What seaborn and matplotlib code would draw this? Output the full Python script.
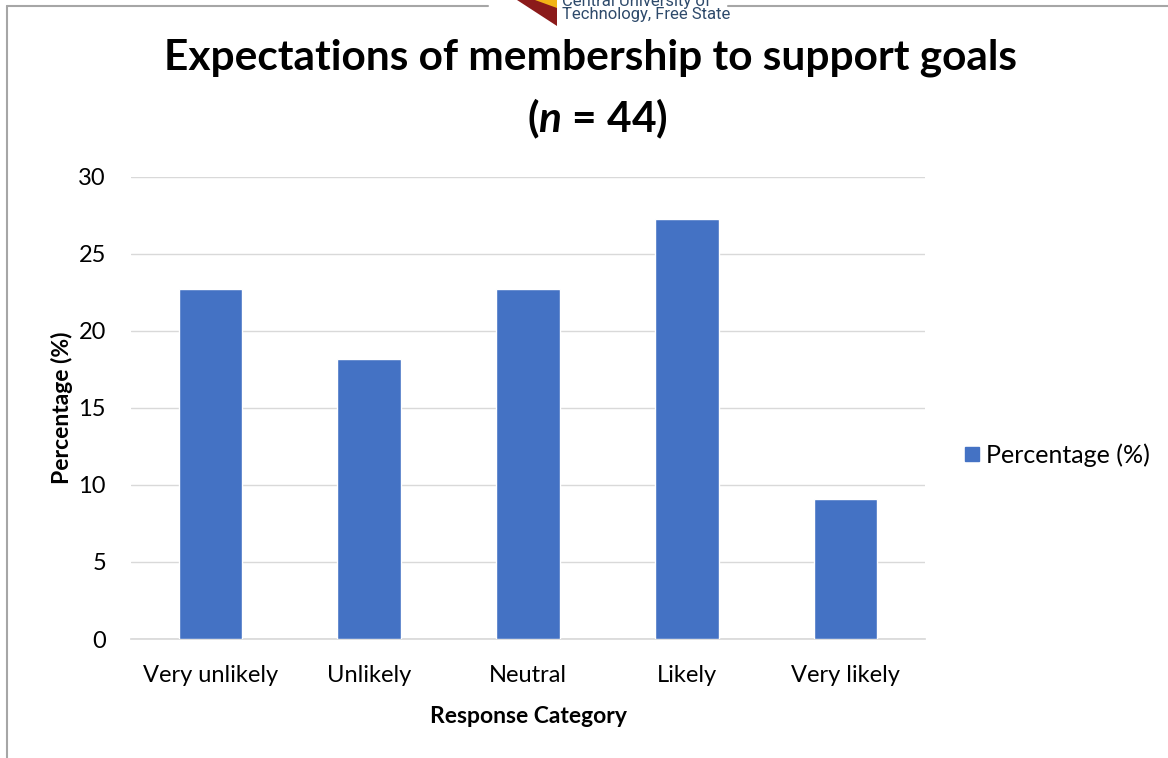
import matplotlib
matplotlib.use("Agg")
import matplotlib.pyplot as plt
import seaborn as sns
import pandas as pd
from matplotlib.patches import Polygon
from matplotlib.lines import Line2D

categories = ["Very unlikely", "Unlikely", "Neutral", "Likely", "Very likely"]
percentages = [22.73, 18.18, 22.73, 27.27, 9.09]
series_name = "Percentage (%)"
y_ticks = [0, 5, 10, 15, 20, 25, 30]

df = pd.DataFrame({"Response Category": categories, series_name: percentages})

sns.set_theme(style="white")
plt.rcParams["font.family"] = ["Lato", "DejaVu Sans"]
plt.rcParams["text.color"] = "black"
plt.rcParams["axes.labelcolor"] = "black"
plt.rcParams["xtick.color"] = "black"
plt.rcParams["ytick.color"] = "black"
plt.rcParams["mathtext.fontset"] = "custom"
plt.rcParams["mathtext.it"] = "Lato:bold:italic"
plt.rcParams["mathtext.rm"] = "Lato:bold"

W, H = 1168, 758
fig = plt.figure(figsize=(W / 100, H / 100), dpi=100)
ax = fig.add_axes([131 / W, 1 - 639 / H, (925 - 131) / W, (639 - 177) / H])

bar_color = "#4472C4"
sns.barplot(data=df, x="Response Category", y=series_name, color=bar_color,
            width=0.4, saturation=1, ax=ax, zorder=3)

ax.set_ylim(0, 30)
ax.set_yticks(y_ticks)
ax.set_yticklabels([str(t) for t in y_ticks], fontsize=17)
ax.tick_params(axis="x", labelsize=17, length=0, pad=19)
ax.tick_params(axis="y", length=0, pad=18)
ax.grid(axis="y", color="#d9d9d9", linewidth=1, zorder=0)
for side in ["left", "right", "top"]:
    ax.spines[side].set_visible(False)
ax.spines["bottom"].set_color("#d9d9d9")
ax.set_xlabel("Response Category", fontsize=16.5, fontweight="bold", labelpad=14)
ax.set_ylabel("Percentage (%)", fontsize=16.5, fontweight="bold", labelpad=4)

# Title, two lines
fig.text(590 / W, 1 - 58 / H, "Expectations of membership to support goals",
         ha="center", va="center", fontsize=30.5, fontweight="bold")
fig.text(597 / W, 1 - 119 / H, r"($\mathit{n}$ = 44)", ha="center", va="center",
         fontsize=30.5, fontweight="bold")

# Legend
handles = [Line2D([], [], marker="s", linestyle="none", markersize=10,
                  markerfacecolor=bar_color, markeredgecolor=bar_color)]
fig.legend(handles, [series_name], loc="center left",
           bbox_to_anchor=(959 / W, 1 - 455 / H), frameon=False, fontsize=18,
           handletextpad=0.1, handlelength=1.0, borderaxespad=0, borderpad=0)

# Slide frame
frame_kw = dict(color="#a6a6a6", linewidth=1.5, transform=fig.transFigure)
fig.add_artist(Line2D([7 / W, 488 / W], [1 - 6 / H, 1 - 6 / H], **frame_kw))
fig.add_artist(Line2D([728 / W, 1], [1 - 6 / H, 1 - 6 / H], **frame_kw))
fig.add_artist(Line2D([7 / W, 7 / W], [1 - 6 / H, 0], **frame_kw))

# Logo
def fpt(x, y):
    return (x / W, 1 - y / H)

fig.add_artist(Polygon([fpt(517, 0), fpt(557, 0), fpt(557, 26)], closed=True,
                       facecolor="#8b1a1a", edgecolor="none", transform=fig.transFigure))
fig.add_artist(Polygon([fpt(535, 0), fpt(557, 0), fpt(557, 8)], closed=True,
                       facecolor="#f2b316", edgecolor="none", transform=fig.transFigure))
fig.text(562 / W, 1 - 15 / H, "Technology, Free State", ha="left", va="center",
         fontsize=12, color="#2e4a6b", family=["Roboto", "DejaVu Sans"])
fig.text(562 / W, 1 - 1 / H, "Central University of", ha="left", va="center",
         fontsize=12, color="#2e4a6b", family=["Roboto", "DejaVu Sans"])

fig.savefig("out.png", dpi=100, facecolor="white")
